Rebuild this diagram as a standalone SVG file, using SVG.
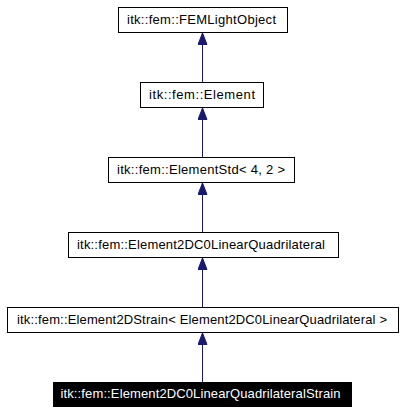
<svg xmlns="http://www.w3.org/2000/svg" width="403" height="411" viewBox="0 0 403 411">
<defs>
<style>
.box{fill:#fff;stroke:#000;stroke-width:1}
.sel{fill:#000;stroke:#000;stroke-width:1}
.t{font-family:"Liberation Sans",Arial,sans-serif;font-size:13px;text-anchor:middle;fill:#000}
.tw{font-family:"Liberation Sans",Arial,sans-serif;font-size:13px;text-anchor:middle;fill:#fff}
.edge{stroke:#191970;stroke-width:1;fill:none}
</style>
<marker id="arr" viewBox="0 0 12 10" refX="12" refY="5" markerWidth="12" markerHeight="10" markerUnits="userSpaceOnUse" orient="auto">
<path d="M0.5,0.5 L12,5 L0.5,9.5 Z" fill="#191970" stroke="#191970" stroke-width="1"/>
</marker>
</defs>
<rect width="403" height="411" fill="#fff"/>
<g id="connectors">
<line class="edge" x1="202.5" y1="82" x2="202.5" y2="33" marker-end="url(#arr)"/>
<line class="edge" x1="202.5" y1="157" x2="202.5" y2="108" marker-end="url(#arr)"/>
<line class="edge" x1="202.5" y1="232" x2="202.5" y2="183" marker-end="url(#arr)"/>
<line class="edge" x1="202.5" y1="307" x2="202.5" y2="258" marker-end="url(#arr)"/>
<line class="edge" x1="202.5" y1="382" x2="202.5" y2="333" marker-end="url(#arr)"/>
</g>
<g id="node1">
<rect class="box" x="118.5" y="7.5" width="169" height="25"/>
<text class="t" x="201.5" y="24" textLength="149" lengthAdjust="spacing">itk::fem::FEMLightObject</text>
</g>
<g id="node2">
<rect class="box" x="140.5" y="82.5" width="123" height="25"/>
<text class="t" x="202" y="99" textLength="106" lengthAdjust="spacing">itk::fem::Element</text>
</g>
<g id="node3">
<rect class="box" x="108.5" y="157.5" width="186" height="25"/>
<text class="t" x="201" y="174" textLength="168" lengthAdjust="spacing">itk::fem::ElementStd&lt; 4, 2 &gt;</text>
</g>
<g id="node4">
<rect class="box" x="68.5" y="232.5" width="270" height="25"/>
<text class="t" x="201" y="249" textLength="248" lengthAdjust="spacing">itk::fem::Element2DC0LinearQuadrilateral</text>
</g>
<g id="node5">
<rect class="box" x="7.5" y="307.5" width="391" height="25"/>
<text class="t" x="202" y="324" textLength="370" lengthAdjust="spacing">itk::fem::Element2DStrain&lt; Element2DC0LinearQuadrilateral &gt;</text>
</g>
<g id="node6">
<rect class="sel" x="53.5" y="382.5" width="298" height="24"/>
<text class="tw" x="200.5" y="398" textLength="280" lengthAdjust="spacing">itk::fem::Element2DC0LinearQuadrilateralStrain</text>
</g>
</svg>
